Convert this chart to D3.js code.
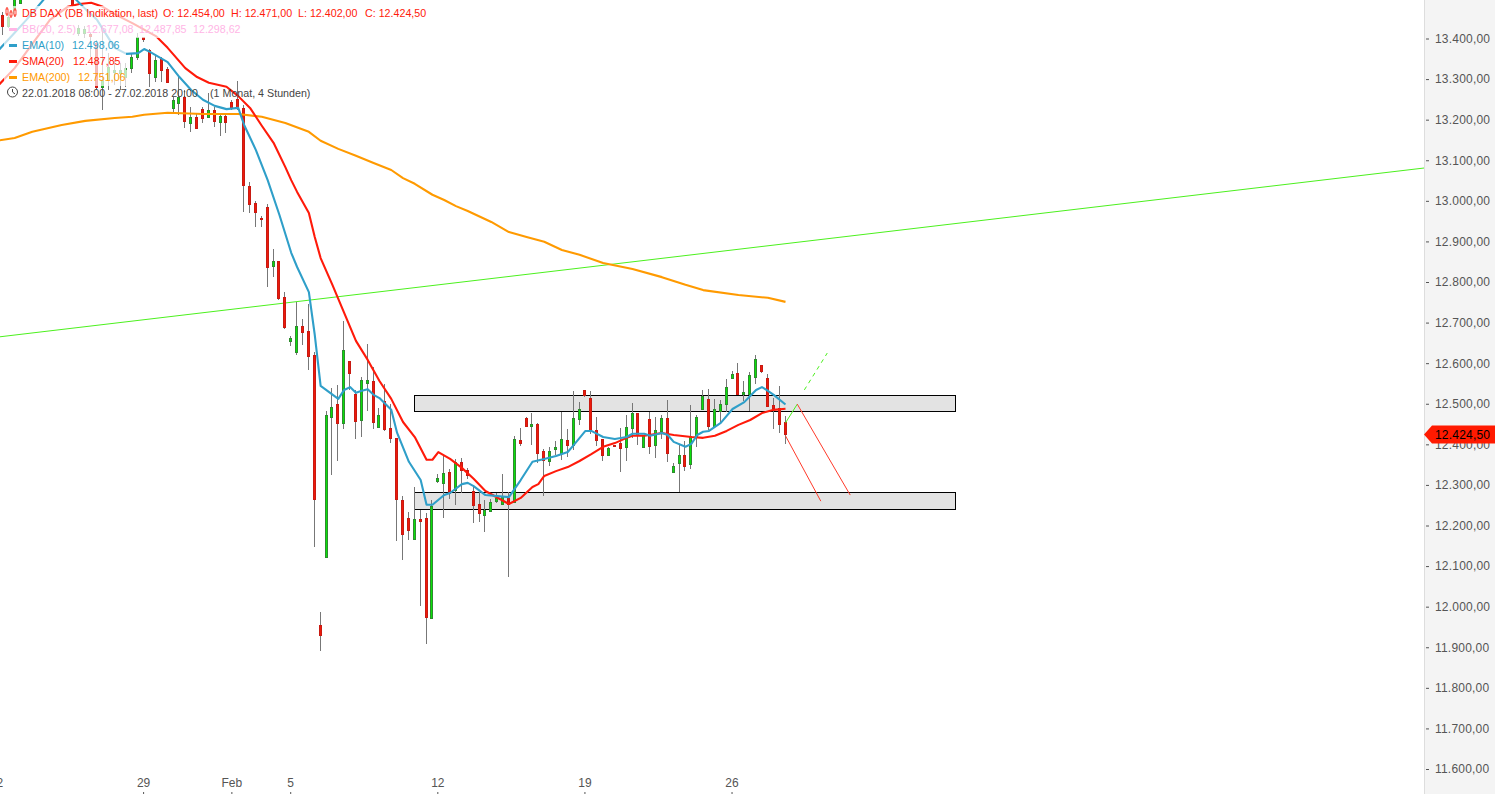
<!DOCTYPE html>
<html>
<head>
<meta charset="utf-8">
<script src="https://cdn.jsdelivr.net/npm/d3@7"></script>
<style>
  html, body { margin: 0; padding: 0; background: #fff; overflow: hidden; }
  svg { display: block; font-family: "Liberation Sans", Arial, sans-serif; }
</style>
</head>
<body>
<div id="chart"></div>
<script>
// 4h candles, 22.01.2018 08:00 - 27.02.2018 20:00, five bars a day
const opens = [13440,13458,13431,13463,13488,13510,13530,13550,13570,13560,13545,13555,13540,13502,13414,13414,13410,13389,13281,13298,13318,13315,13305,13327,13355,13403,13372,13305,13350,13325,13229,13241,13256,13192,13207,13226,13207,13224,13194,13209,13244,13251,13229,13037,12995,12958,12985,12840,12852,12763,12655,12628,12692,12679,12620,11955,12123,12468,12500,12453,12605,12524,12460,12551,12556,12443,12507,12440,12416,12263,12219,12167,12216,12219,11972,12310,12305,12332,12288,12357,12337,12285,12253,12226,12236,12261,12253,12268,12258,12411,12465,12445,12450,12384,12359,12389,12379,12411,12398,12463,12534,12514,12435,12413,12374,12398,12403,12394,12440,12477,12394,12463,12398,12433,12465,12332,12354,12374,12352,12421,12487,12512,12445,12482,12500,12564,12576,12524,12524,12566,12596,12564,12497,12490,12454];
const highs = [13470,13465,13460,13507,13520,13540,13560,13585,13600,13590,13575,13580,13565,13507,13433,13431,13414,13396,13428,13364,13347,13340,13340,13364,13414,13404,13374,13359,13355,13330,13256,13310,13273,13231,13217,13231,13266,13231,13217,13217,13249,13295,13236,13047,13000,12963,12992,12881,12852,12775,12667,12751,12709,12746,12628,11987,12482,12539,12546,12704,12605,12534,12566,12647,12591,12490,12549,12500,12416,12273,12233,12295,12238,12231,12263,12327,12374,12339,12364,12366,12342,12295,12283,12263,12265,12280,12327,12283,12421,12440,12468,12477,12453,12389,12394,12408,12480,12438,12532,12504,12534,12532,12468,12413,12394,12398,12440,12472,12502,12477,12423,12480,12468,12472,12509,12354,12398,12408,12497,12472,12534,12537,12512,12509,12561,12581,12601,12556,12578,12620,12596,12573,12514,12544,12471];
const lows = [13400,13409,13426,13453,13488,13500,13520,13535,13550,13540,13530,13530,13515,13478,13406,13401,13355,13273,13224,13273,13286,13273,13281,13315,13347,13392,13281,13293,13293,13290,13219,13212,13180,13170,13177,13192,13207,13182,13160,13167,13224,13224,12973,12970,12936,12936,12788,12812,12756,12684,12642,12620,12645,12583,12147,11891,12123,12325,12359,12438,12534,12413,12418,12482,12438,12440,12433,12403,12162,12115,12164,12167,12002,11908,11972,12305,12219,12265,12251,12280,12315,12206,12209,12184,12233,12256,12253,12073,12258,12396,12443,12398,12354,12273,12347,12374,12362,12369,12386,12448,12517,12426,12396,12359,12371,12396,12332,12359,12416,12398,12391,12376,12366,12413,12357,12330,12283,12334,12339,12394,12487,12435,12445,12453,12480,12561,12522,12507,12482,12549,12576,12495,12438,12428,12402];
const closes = [13460,13432,13452,13500,13510,13530,13550,13570,13560,13545,13555,13540,13530,13483,13426,13424,13405,13281,13298,13330,13323,13323,13327,13355,13404,13398,13315,13347,13323,13293,13249,13256,13197,13207,13180,13204,13224,13197,13209,13194,13229,13231,13039,12992,12973,12956,12837,12852,12761,12689,12662,12692,12677,12618,12265,11930,12472,12492,12453,12633,12576,12458,12559,12559,12455,12472,12438,12416,12265,12179,12189,12216,12211,11975,12248,12317,12330,12280,12357,12337,12325,12251,12231,12238,12258,12268,12270,12253,12413,12403,12445,12450,12379,12362,12384,12394,12413,12398,12465,12487,12522,12435,12411,12374,12391,12396,12391,12443,12477,12423,12423,12396,12435,12465,12379,12347,12374,12347,12421,12468,12519,12445,12487,12500,12541,12573,12524,12529,12571,12610,12581,12495,12490,12450,12424.5];

// moving averages, read at the bars where the line bends
const ema10Bars = [0,3,5,8,10,12,13,15,17,20,22,24,25,26,29,31,33,35,37,39,41,42,44,46,48,50,51,53,54,55,58,59,60,61,62,63,64,65,67,68,70,72,73,74,76,77,79,80,81,83,87,89,91,93,95,97,98,100,101,103,105,107,108,110,111,113,114,115,117,118,119,120,121,123,125,127,128,129,130,131,132,134];
const ema10 = [13367,13414,13446,13497,13520,13515,13502,13473,13446,13377,13362,13364,13374,13367,13342,13305,13273,13249,13234,13226,13229,13187,13125,13051,12965,12872,12837,12775,12670,12544,12512,12534,12541,12527,12532,12536,12522,12514,12485,12428,12357,12312,12251,12251,12275,12280,12302,12305,12297,12275,12270,12312,12357,12364,12371,12381,12398,12433,12433,12418,12413,12418,12426,12426,12421,12428,12423,12406,12394,12401,12423,12431,12433,12453,12487,12504,12519,12534,12541,12532,12522,12498.06];
const sma20Bars = [0,3,6,9,12,14,16,18,20,23,27,29,32,34,36,39,41,43,45,47,49,50,51,53,54,55,57,59,61,63,65,67,69,71,73,74,75,77,79,81,83,87,89,91,92,93,95,97,99,101,103,105,107,108,110,113,115,118,120,122,124,126,128,130,132,134];
const sma20 = [13281,13327,13387,13446,13478,13485,13488,13478,13460,13438,13406,13377,13327,13305,13291,13281,13258,13229,13185,13143,13083,13051,13022,12970,12911,12859,12793,12724,12655,12608,12556,12512,12455,12418,12362,12362,12381,12364,12342,12315,12285,12253,12268,12295,12302,12322,12334,12344,12359,12376,12394,12403,12416,12421,12421,12428,12423,12418,12416,12421,12433,12448,12460,12477,12485,12487.85];
const ema200Bars = [0,3,6,11,15,20,23,25,29,35,41,45,49,53,55,58,61,64,67,69,71,74,76,78,80,84,87,90,93,96,99,103,108,113,117,120,126,131,134];
const ema200 = [13148,13155,13170,13187,13197,13204,13207,13212,13217,13214,13214,13207,13192,13170,13148,13128,13111,13093,13076,13056,13042,13015,13002,12987,12975,12948,12923,12911,12899,12879,12867,12847,12832,12812,12793,12780,12768,12761,12751.06];

// drawn by hand on the chart
const trendBars = [0.5,242.6];
const trendPrices = [12665,13081];
const zoneBars = [71,163];
const zoneTops = [12521,12282];
const zoneBottoms = [12481,12240];
const upBars = [134,136];
const upPrices = [12453,12499];
const upDashBars = [137.2,141.1];
const upDashPrices = [12534,12625];
const downBars = [[136,145],[134,140]];
const downPrices = [[12499,12275],[12421,12260]];

const priceTicks = [13400,13300,13200,13100,13000,12900,12800,12700,12600,12500,12400,12300,12200,12100,12000,11900,11800,11700,11600];
const dateBars = [0,25,40,50,75,100,125];
const dateLabels = ["22","29","Feb","5","12","19","26"];
const lastPrice = 12424.5;

const legendMain = [["DB DAX (DB Indikation, last)",22],["O: 12.454,00",163],["H: 12.471,00",231],["L: 12.402,00",298],["C: 12.424,50",365]];
const legendBB = [["BB(20, 2.5)",22],["12.677,08",86],["12.487,85",139],["12.298,62",193]];
const legendEma10 = [["EMA(10)",22],["12.498,06",72]];
const legendSma20 = [["SMA(20)",22],["12.487,85",73]];
const legendEma200 = [["EMA(200)",22],["12.751,06",78]];
const legendTime = [["22.01.2018 08:00 - 27.02.2018 20:00",22],["(1 Monat, 4 Stunden)",210]];

const width = 1495, height = 794, plotRight = 1424;
const red = "#ff1a0a", blue = "#2f9fc9", orange = "#ff9a00", pink = "#ffb6e6";

const svg = d3.select("#chart").append("svg")
  .attr("width", width)
  .attr("height", height);

const x = d3.scaleLinear().domain([0, 134]).range([-3.5, 785]);
const y = d3.scaleLinear().domain([13400, 11600]).range([38.5, 769]);

svg.append("defs").append("clipPath").attr("id", "plot")
  .append("rect").attr("width", plotRight).attr("height", height);

const plot = svg.append("g").attr("clip-path", "url(#plot)");

// zones
zoneTops.forEach((top, k) => {
  plot.append("rect")
    .attr("x", Math.floor(x(zoneBars[0])) + 0.5)
    .attr("y", Math.floor(y(top)) + 0.5)
    .attr("width", Math.round(x(zoneBars[1]) - x(zoneBars[0])))
    .attr("height", Math.floor(y(zoneBottoms[k])) - Math.floor(y(top)))
    .attr("fill", "#e3e3e3")
    .attr("stroke", "#000");
});

function segment(bars, prices, color, dash) {
  const s = plot.append("line")
    .attr("x1", x(bars[0]) + 0.5).attr("y1", y(prices[0]))
    .attr("x2", x(bars[1]) + 0.5).attr("y2", y(prices[1]))
    .attr("stroke", color)
    .attr("stroke-width", 1);
  if (dash) s.attr("stroke-dasharray", dash);
}

segment(trendBars, trendPrices, "#4cf01e");

// candles
const candles = plot.append("g").selectAll("g").data(opens).join("g");
candles.append("line")
  .attr("x1", (d, i) => Math.floor(x(i)) + 0.5)
  .attr("x2", (d, i) => Math.floor(x(i)) + 0.5)
  .attr("y1", (d, i) => y(highs[i]))
  .attr("y2", (d, i) => y(lows[i]))
  .attr("stroke", "#777")
  .attr("shape-rendering", "crispEdges");
candles.append("rect")
  .attr("x", (d, i) => Math.floor(x(i)) - 0.5)
  .attr("width", 2)
  .attr("y", (d, i) => Math.round(y(Math.max(opens[i], closes[i]))) + 0.5)
  .attr("height", (d, i) => Math.max(1, Math.round(Math.abs(y(opens[i]) - y(closes[i])))))
  .attr("fill", (d, i) => closes[i] >= opens[i] ? "#0be00b" : "#ee1a0a")
  .attr("stroke", (d, i) => closes[i] >= opens[i] ? "#2e8b2e" : "#c81a12")
  .attr("stroke-width", 1);

// moving averages
function avgLine(bars, values, color) {
  const line = d3.line()
    .x((d, i) => x(bars[i]) + 0.5)
    .y(d => y(d));
  plot.append("path")
    .attr("d", line(values))
    .attr("fill", "none")
    .attr("stroke", color)
    .attr("stroke-width", 2.1)
    .attr("stroke-linejoin", "round");
}

avgLine(ema200Bars, ema200, orange);
avgLine(sma20Bars, sma20, red);
avgLine(ema10Bars, ema10, blue);

segment(upBars, upPrices, "#4cf01e");
segment(upDashBars, upDashPrices, "#4cf01e", "4,4");
downBars.forEach((b, k) => segment(b, downPrices[k], "#ff3a2a"));

// price panel
svg.append("rect")
  .attr("x", plotRight)
  .attr("width", width - plotRight)
  .attr("height", height)
  .attr("fill", "#f4f4f4");
svg.append("line")
  .attr("x1", plotRight + 0.5).attr("x2", plotRight + 0.5)
  .attr("y1", 0).attr("y2", height)
  .attr("stroke", "#dddddd");

const priceFormat = d3.formatLocale({ decimal: ",", thousands: ".", grouping: [3], currency: ["", ""] }).format(",.2f");

const yAxis = svg.append("g")
  .attr("transform", `translate(${plotRight + 2},0)`)
  .call(d3.axisRight(y).tickValues(priceTicks).tickFormat(priceFormat).tickSize(3).tickPadding(6));
yAxis.select(".domain").remove();
yAxis.selectAll("line").attr("stroke", "#555");
yAxis.selectAll("text").attr("fill", "#555").style("font-size", "12px").style("letter-spacing", "0.2px").style("font-family", "Liberation Sans");

const xAxis = svg.append("g")
  .attr("transform", `translate(0,${height - 2})`)
  .call(d3.axisTop(x).tickValues(dateBars).tickFormat((d, i) => dateLabels[i]).tickSize(0).tickPadding(5).offset(0));
xAxis.select(".domain").remove();
xAxis.selectAll("text").attr("fill", "#555").style("font-size", "12px").style("font-family", "Liberation Sans");
xAxis.selectAll("line")
  .attr("y1", 0).attr("y2", 3)
  .attr("stroke", "#555");

// last price flag
const flagY = y(lastPrice);
svg.append("path")
  .attr("d", d3.line()([[plotRight, flagY], [plotRight + 8, flagY - 9], [width, flagY - 9], [width, flagY + 9], [plotRight + 8, flagY + 9]]))
  .attr("fill", "#ff1a00");
svg.append("text")
  .attr("x", plotRight + 11)
  .attr("y", flagY + 4.5)
  .attr("fill", "#000")
  .style("font-size", "12px")
  .style("letter-spacing", "0.2px")
  .text(priceFormat(lastPrice));

// legend, each row sits on a half transparent strip
const legendRows = [
  { items: legendMain, color: red, top: 6, strip: 420 },
  { items: legendBB, color: pink, top: 22, strip: 240 },
  { items: legendEma10, color: blue, top: 38, strip: 122 },
  { items: legendSma20, color: red, top: 54, strip: 122 },
  { items: legendEma200, color: orange, top: 70, strip: 127 },
  { items: legendTime, color: "#444", top: 86, strip: 0 }
];

legendRows.forEach((row, k) => {
  if (row.strip) {
    svg.append("rect")
      .attr("x", 4).attr("y", row.top)
      .attr("width", row.strip).attr("height", 16)
      .attr("fill", "#fff").attr("fill-opacity", 0.7);
  }
  row.items.forEach(item => {
    svg.append("text")
      .attr("x", item[1]).attr("y", row.top + 11)
      .attr("fill", row.color)
      .style("font-size", "10.7px")
      .text(item[0]);
  });
  if (k >= 1 && k <= 4) {
    svg.append("rect")
      .attr("x", 9).attr("y", row.top + 6)
      .attr("width", 8).attr("height", 3)
      .attr("fill", row.color);
  }
});

// small candle icon
[[6,9,14],[10,12,16],[14,10,15]].forEach(c => {
  svg.append("line").attr("x1", c[0] + 1).attr("x2", c[0] + 1).attr("y1", c[1] - 2).attr("y2", c[2] + 2)
    .attr("stroke", red);
  svg.append("rect").attr("x", c[0]).attr("y", c[1]).attr("width", 2).attr("height", c[2] - c[1])
    .attr("fill", "#fff").attr("stroke", red).attr("stroke-width", 0.8);
});

// clock icon
svg.append("circle").attr("cx", 12.5).attr("cy", 92).attr("r", 5)
  .attr("fill", "none").attr("stroke", "#444").attr("stroke-width", 1);
svg.append("path").attr("d", "M12.5,89V92L15,94")
  .attr("fill", "none").attr("stroke", "#444").attr("stroke-width", 1);
</script>
</body>
</html>
